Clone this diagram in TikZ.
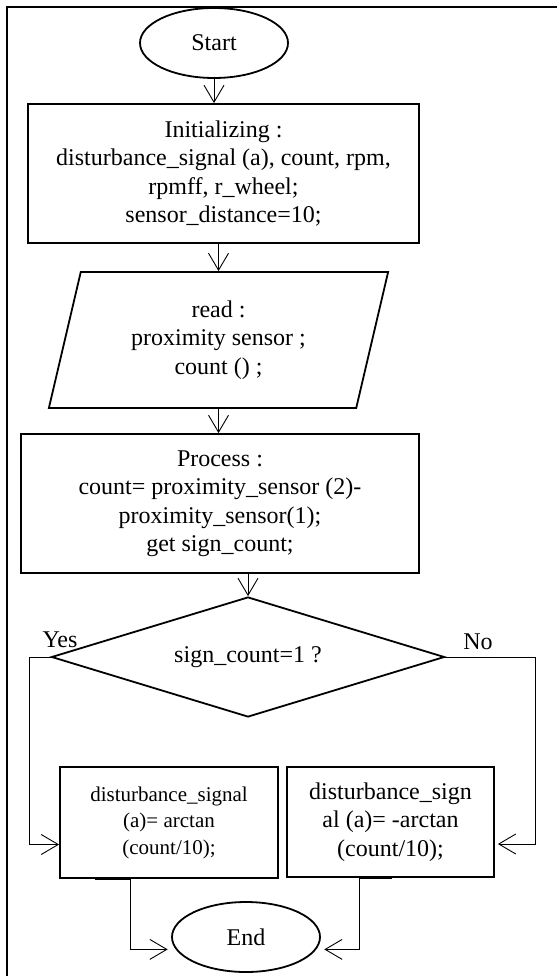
\documentclass[tikz,border=0pt]{standalone}
\usepackage{fontspec}
\setmainfont{Liberation Serif}
\usepackage{tikz}
\usetikzlibrary{arrows.meta,positioning,shapes.geometric}
\newcommand{\mainsz}{\fontsize{24}{28.5}\selectfont}
\newcommand{\smallsz}{\fontsize{21}{26.5}\selectfont}

\begin{document}
\begin{tikzpicture}[
  x=1pt,y=-1pt,
  base/.style={draw,line width=1.8pt,align=center,font=\mainsz,inner sep=0pt},
  proc/.style={base,rectangle},
  term/.style={base,ellipse,minimum width=148pt,minimum height=70pt},
  io/.style={base,trapezium,trapezium left angle=75.6,trapezium right angle=104.4,
    trapezium stretches=true,minimum width=340pt,minimum height=136pt},
  cond/.style={base,diamond,aspect=3.3,minimum width=393pt,minimum height=120pt},
  arr/.style={-{Straight Barb[length=17pt,width=20pt]},line width=0.9pt},
  lbl/.style={font=\mainsz,inner sep=0pt}
]
\useasboundingbox (0,0) rectangle (557,976);
\draw[line width=2.4pt] (557,7) -- (7,7) -- (7,976);

\node[term] (start) at (214,43) {Start};
\node[proc,minimum width=391pt,minimum height=139pt] (init) at (223.5,173.5)
  {Initializing :\\disturbance\_signal (a), count, rpm,\\rpmff, r\_wheel;\\sensor\_distance=10;};
\node[io] (read) at (218.5,340) {read :\\proximity sensor ;\\count () ;};
\node[proc,minimum width=398pt,minimum height=139pt] (process) at (220,503.5)
  {Process :\\count= proximity\_sensor (2)-\\proximity\_sensor(1);\\get sign\_count;};
\node[cond] (dec) at (248,657) {sign\_count=1 ?};
\node[proc,font=\smallsz,minimum width=218pt,minimum height=111pt] (left) at (169,822.5)
  {disturbance\_signal\\(a)= arctan\\(count/10);};
\node[proc,minimum width=207pt,minimum height=110pt] (right) at (390.5,822)
  {disturbance\_sign\\al (a)= -arctan\\(count/10);};
\node[term] (end) at (246,937) {End};
\node[lbl] (yes) at (60,640) {Yes};
\node[lbl] (no) at (478,642) {No};
\coordinate (yesx) at (29,0);
\coordinate (nox) at (535,0);

\draw[arr] (start.south) -- (start.south |- init.north);
\draw[arr] (read.north |- init.south) -- (read.north);
\draw[arr] (read.south) -- (read.south |- process.north);
\draw[arr] (dec.north |- process.south) -- (dec.north);
\draw[arr] (dec.west) -- (dec.west -| yesx) |- ([yshift=-22pt]left.west);
\draw[arr,shorten >=3pt] (dec.east) -- (dec.east -| nox) |- ([yshift=-22pt]right.east);
\draw[arr,shorten >=8pt] ([xshift=-74pt,yshift=-1pt]left.south) -- ([xshift=-39pt,yshift=-1pt]left.south) |- (end.190);
\draw[arr,shorten >=8pt] ([xshift=1.5pt,yshift=-1pt]right.south) -- ([xshift=-31.5pt,yshift=-1pt]right.south) |- (end.-10);
\end{tikzpicture}
\end{document}
